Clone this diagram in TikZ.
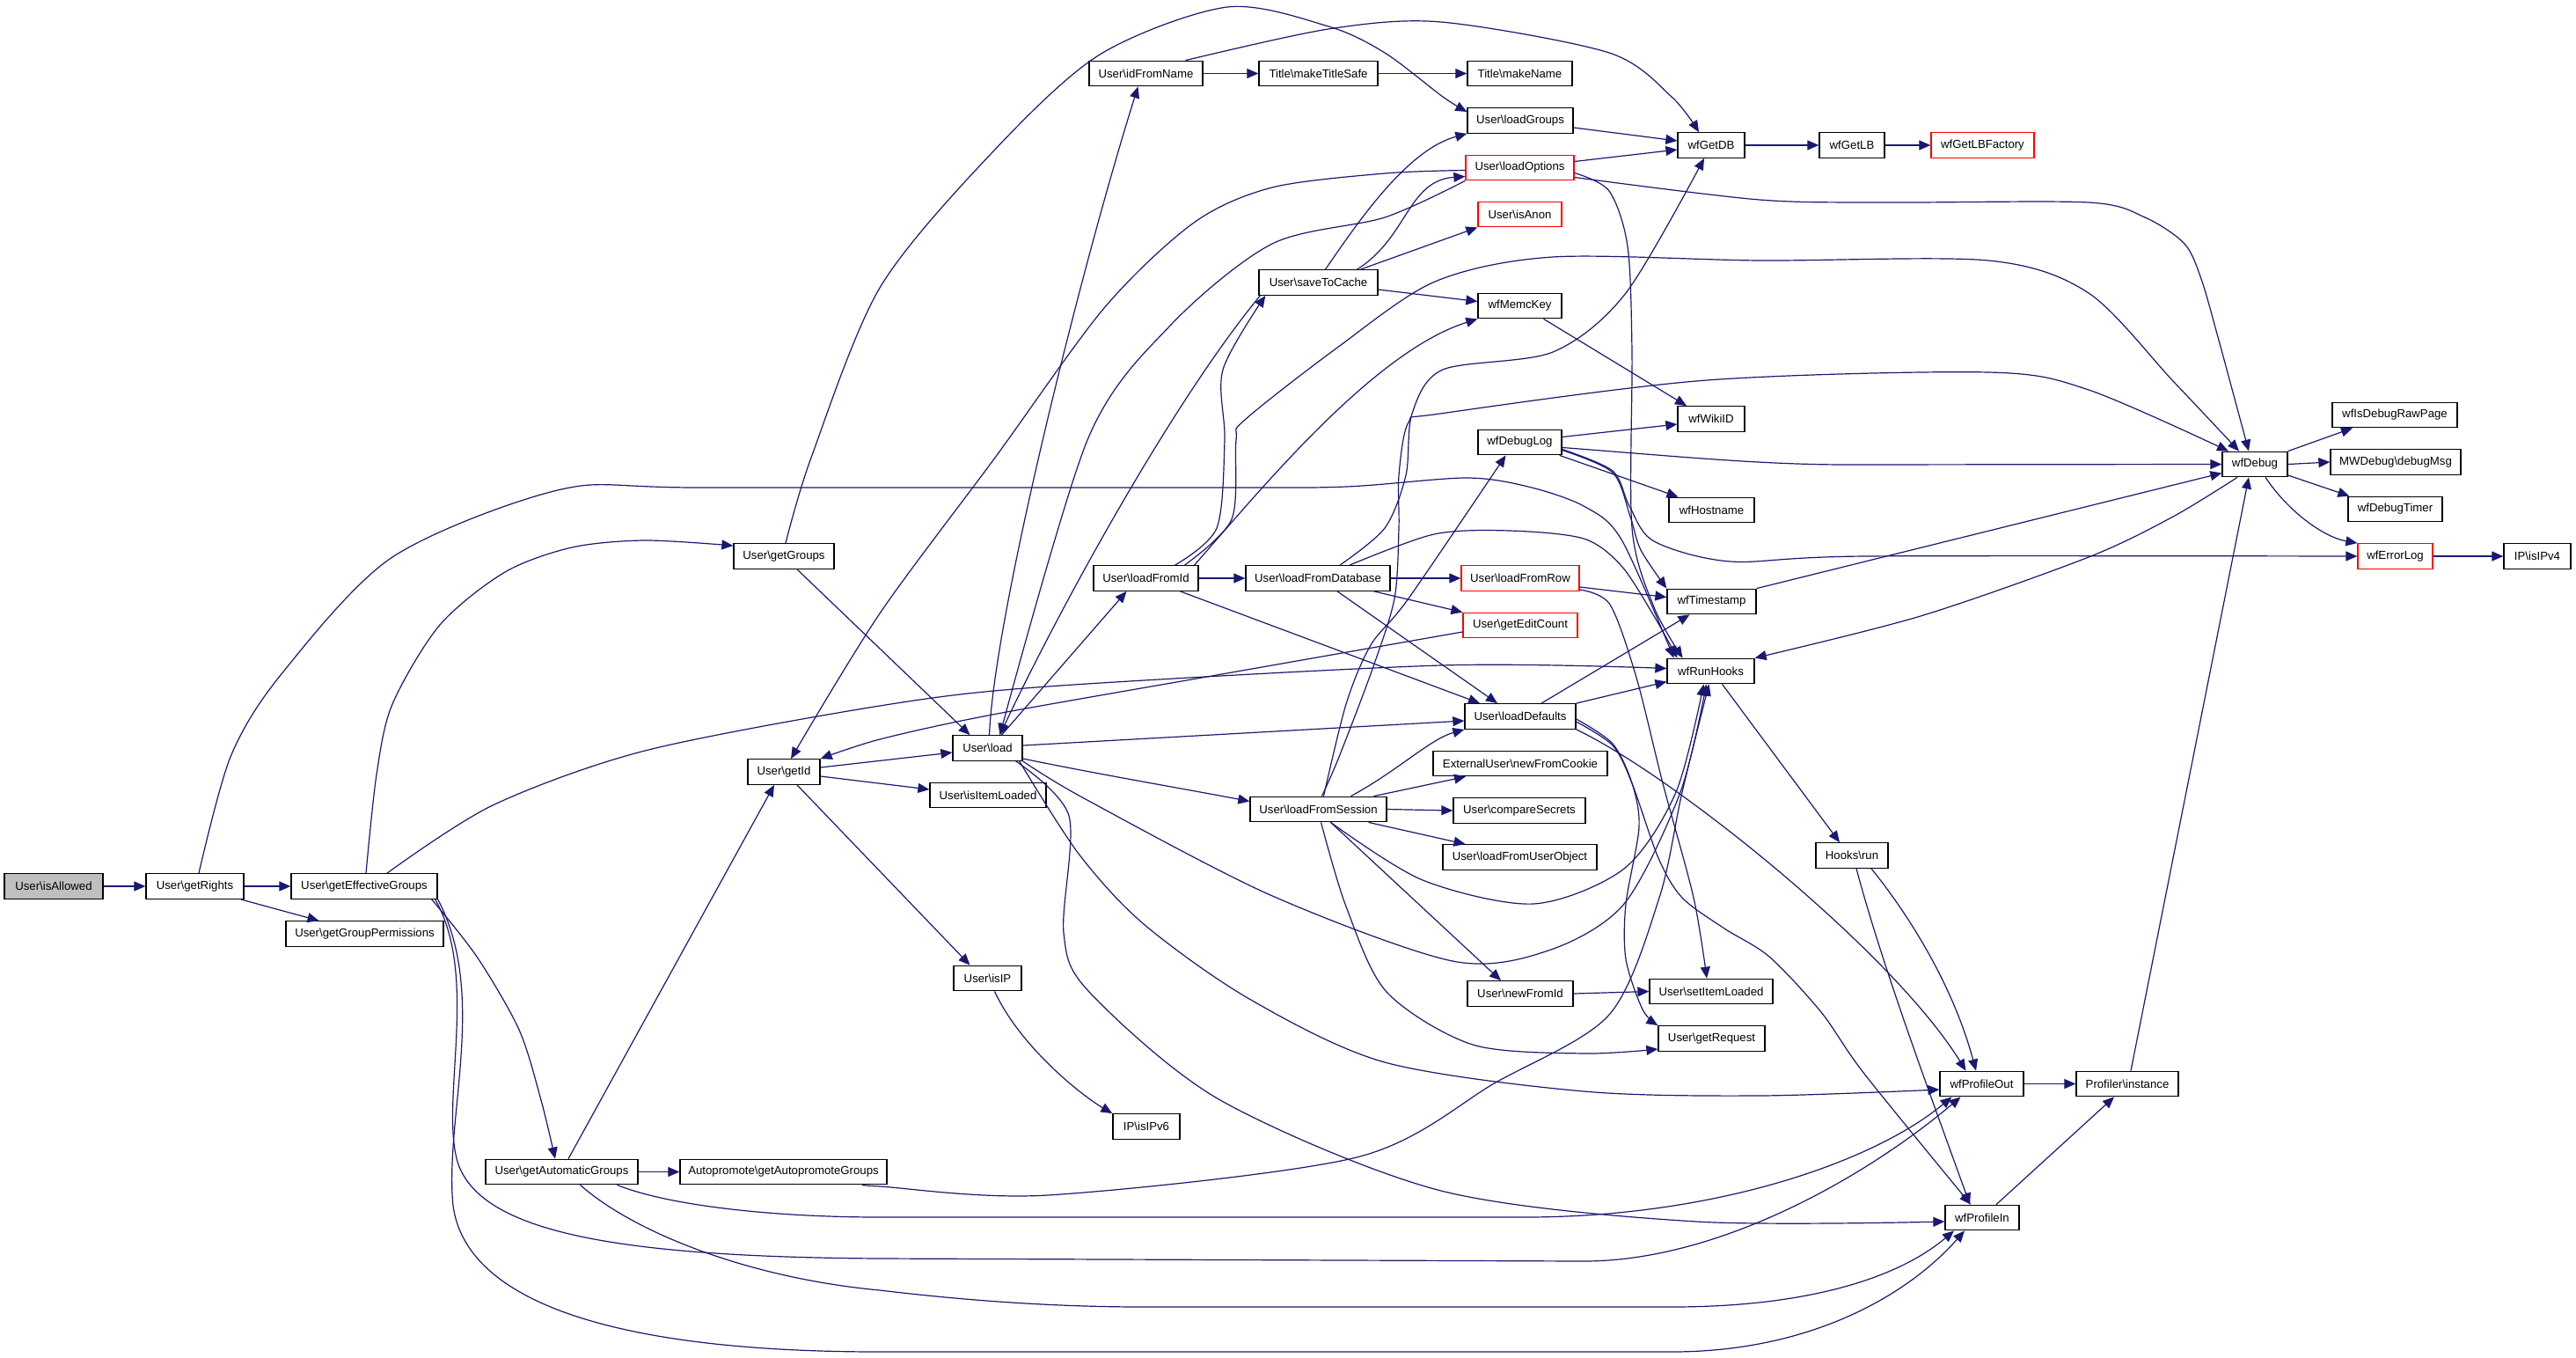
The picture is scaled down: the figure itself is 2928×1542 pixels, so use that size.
\documentclass[tikz,border=0pt]{standalone}
\usepackage{fontspec}
\setmainfont{Liberation Sans}
\usetikzlibrary{arrows.meta}
\newcommand{\bsl}{\textbackslash}
\definecolor{edgeblue}{RGB}{25,25,112}
\definecolor{rootgray}{RGB}{191,191,191}

\begin{document}
\begin{tikzpicture}[x=1pt, y=-1pt,
    fn/.style = {draw=black, fill=white, line width=1.3pt, minimum height=28.5pt,
                 inner sep=0pt, font=\fontsize{13.2pt}{15pt}\selectfont},
    fnred/.style = {fn, draw=red},
    call/.style = {draw=edgeblue, line width=1.2pt, line join=round,
                   -{Triangle[length=13pt,width=11pt]}}]

    \useasboundingbox (0,0) rectangle (2928,1542);

    % functions
    \node[fn, fill=rootgray, minimum width=112pt] (isAllowed) at (61,1007) {User\bsl isAllowed};
    \node[fn, minimum width=111pt] (getRights) at (221.5,1007) {User\bsl getRights};
    \node[fn, minimum width=166pt] (effGroups) at (414,1007) {User\bsl getEffectiveGroups};
    \node[fn, minimum width=179pt] (groupPerms) at (414.5,1061) {User\bsl getGroupPermissions};
    \node[fn, minimum width=114pt] (getGroups) at (891,632) {User\bsl getGroups};
    \node[fn, minimum width=82pt] (getId) at (891,877) {User\bsl getId};
    \node[fn, minimum width=173pt] (autoGroups) at (638.5,1331.5) {User\bsl getAutomaticGroups};
    \node[fn, minimum width=235pt] (autopromote) at (890.5,1331.5) {Autopromote\bsl getAutopromoteGroups};
    \node[fn, minimum width=129pt] (idFromName) at (1302.5,83.5) {User\bsl idFromName};
    \node[fn, minimum width=135pt] (makeTitleSafe) at (1498.5,83.5) {Title\bsl makeTitleSafe};
    \node[fn, minimum width=119pt] (makeName) at (1727.5,83.5) {Title\bsl makeName};
    \node[fn, minimum width=120pt] (loadGroups) at (1728,137) {User\bsl loadGroups};
    \node[fnred, minimum width=123pt] (loadOptions) at (1727.5,190.5) {User\bsl loadOptions};
    \node[fnred, minimum width=95pt] (isAnon) at (1727.5,243.5) {User\bsl isAnon};
    \node[fn, minimum width=135pt] (saveToCache) at (1498.5,321) {User\bsl saveToCache};
    \node[fn, minimum width=95pt] (memcKey) at (1727.5,347.5) {wfMemcKey};
    \node[fn, minimum width=76pt] (getDB) at (1945,165) {wfGetDB};
    \node[fn, minimum width=74pt] (getLB) at (2105,165) {wfGetLB};
    \node[fnred, minimum width=117pt] (getLBFactory) at (2253.5,165) {wfGetLBFactory};
    \node[fn, minimum width=76pt] (wikiID) at (1945,476) {wfWikiID};
    \node[fn, minimum width=95pt] (debugLog) at (1727.5,502.5) {wfDebugLog};
    \node[fn, minimum width=97pt] (hostname) at (1945.5,579.5) {wfHostname};
    \node[fn, minimum width=119pt] (loadFromId) at (1302.5,657) {User\bsl loadFromId};
    \node[fn, minimum width=164pt] (loadFromDB) at (1498,657) {User\bsl loadFromDatabase};
    \node[fnred, minimum width=134pt] (loadFromRow) at (1728,657) {User\bsl loadFromRow};
    \node[fn, minimum width=101pt] (timestamp) at (1945.5,683.5) {wfTimestamp};
    \node[fnred, minimum width=130pt] (editCount) at (1728,710.5) {User\bsl getEditCount};
    \node[fn, minimum width=99pt] (runHooks) at (1944.5,762.5) {wfRunHooks};
    \node[fn, minimum width=126pt] (loadDefaults) at (1728,814) {User\bsl loadDefaults};
    \node[fn, minimum width=79pt] (load) at (1122.5,850) {User\bsl load};
    \node[fn, minimum width=198pt] (newFromCookie) at (1728,867.5) {ExternalUser\bsl newFromCookie};
    \node[fn, minimum width=132pt] (isItemLoaded) at (1123,903.5) {User\bsl isItemLoaded};
    \node[fn, minimum width=155pt] (loadFromSession) at (1498.5,919.5) {User\bsl loadFromSession};
    \node[fn, minimum width=150pt] (compareSecrets) at (1727,921) {User\bsl compareSecrets};
    \node[fn, minimum width=175pt] (loadFromUserObj) at (1727.5,974) {User\bsl loadFromUserObject};
    \node[fn, minimum width=77pt] (isIP) at (1122.5,1111.5) {User\bsl isIP};
    \node[fn, minimum width=76pt] (isIPv6) at (1303,1280) {IP\bsl isIPv6};
    \node[fn, minimum width=120pt] (newFromId) at (1728,1129) {User\bsl newFromId};
    \node[fn, minimum width=140pt] (setItemLoaded) at (1945,1126.5) {User\bsl setItemLoaded};
    \node[fn, minimum width=121pt] (getRequest) at (1945.5,1180) {User\bsl getRequest};
    \node[fn, minimum width=82pt] (hooksRun) at (2105,972) {Hooks\bsl run};
    \node[fn, minimum width=95pt] (profileOut) at (2252.5,1231.5) {wfProfileOut};
    \node[fn, minimum width=116pt] (profilerInst) at (2418,1231.5) {Profiler\bsl instance};
    \node[fn, minimum width=84pt] (profileIn) at (2253,1383.5) {wfProfileIn};
    \node[fn, minimum width=74pt] (debug) at (2563,527.5) {wfDebug};
    \node[fn, minimum width=142pt] (debugRaw) at (2722,471.5) {wfIsDebugRawPage};
    \node[fn, minimum width=148pt] (debugMsg) at (2723,525) {MWDebug\bsl debugMsg};
    \node[fn, minimum width=107pt] (debugTimer) at (2722.5,578.5) {wfDebugTimer};
    \node[fnred, minimum width=85pt] (errorLog) at (2722.5,632) {wfErrorLog};
    \node[fn, minimum width=76pt] (isIPv4) at (2884,632) {IP\bsl isIPv4};

    % straight calls
    \draw[call] (isAllowed) -- (getRights);
    \draw[call] (getRights) -- (effGroups);
    \draw[call] ([xshift=-4pt]getRights.south east) -- ([xshift=-52pt]groupPerms.north);
    \draw[call] (autoGroups) -- (autopromote);
    \draw[call] (idFromName) -- (makeTitleSafe);
    \draw[call] (makeTitleSafe) -- (makeName);
    \draw[call] (getDB) -- (getLB);
    \draw[call] (getLB) -- (getLBFactory);
    \draw[call] (loadFromId) -- (loadFromDB);
    \draw[call] (loadFromDB) -- (loadFromRow);
    \draw[call] (loadFromSession.east) -- (compareSecrets.west);
    \draw[call] (newFromId.east) -- (setItemLoaded.west);
    \draw[call] (profileOut) -- (profilerInst);
    \draw[call] (errorLog) -- (isIPv4);
    \draw[call] (debug.east) -- (debugMsg.west);
    \draw[call] ([xshift=15pt]getGroups.south) -- ([xshift=-20pt]load.north);
    \draw[call] ([yshift=5pt]getId.east) -- ([yshift=-5pt]load.west);
    \draw[call] ([yshift=-5pt]getId.east) -- ([yshift=6.5pt]isItemLoaded.west);
    \draw[call] ([xshift=15pt]getId.south) -- ([xshift=-20pt]isIP.north);
    \draw[call] ([xshift=7.5pt]autoGroups.north) -- ([xshift=-11pt]getId.south);
    \draw[call] ([xshift=16pt]load.north) -- ([xshift=-22pt]loadFromId.south);
    \draw[call] ([yshift=3pt]load.east) -- ([yshift=-5pt]loadDefaults.west);
    \draw[call] ([xshift=39pt]loadFromId.south) -- ([xshift=-46pt]loadDefaults.north);
    \draw[call] ([xshift=22pt]loadFromDB.south) -- ([xshift=-26pt]loadDefaults.north);
    \draw[call] ([xshift=-19pt]loadFromDB.south east) -- (editCount.north west);
    \draw[call] ([yshift=-10pt]loadFromRow.east) -- ([yshift=5pt]timestamp.west);
    \draw[call] ([xshift=24pt]loadDefaults.north) -- ([xshift=-25pt]timestamp.south);
    \draw[call] (loadDefaults.north east) -- ([yshift=-12pt]runHooks.west);
    \draw[call] ([xshift=14pt]loadFromSession.south) -- ([xshift=-22pt]newFromId.north);
    \draw[call] ([xshift=57pt]loadFromSession.south) -- ([xshift=-62pt]loadFromUserObj.north);
    \draw[call] ([xshift=63pt]loadFromSession.north) -- ([xshift=-62pt]newFromCookie.south);
    \draw[call] (timestamp.north east) -- ([yshift=-10pt]debug.west);
    \draw[call] ([yshift=6pt]debugLog.east) -- ([yshift=-6pt]wikiID.west);
    \draw[call] ([xshift=-3pt]debugLog.south east) -- ([xshift=-38pt]hostname.north);
    \draw[call] ([xshift=27pt]memcKey.south) -- ([xshift=-28pt]wikiID.north);
    \draw[call] ([xshift=48pt]saveToCache.north) -- (isAnon.south west);
    \draw[call] ([yshift=-8pt]saveToCache.east) -- ([yshift=5pt]memcKey.west);
    \draw[call] ([yshift=7pt]loadOptions.east) -- ([yshift=-5pt]getDB.west);
    \draw[call] ([yshift=-8pt]loadGroups.east) -- ([yshift=5pt]getDB.west);
    \draw[call] ([xshift=13pt]runHooks.south) -- ([xshift=-14pt]hooksRun.north);
    \draw[call] ([xshift=16pt]profileIn.north) -- ([xshift=-15pt]profilerInst.south);
    \draw[call] ([xshift=4pt]profilerInst.north) -- ([xshift=-7pt]debug.south);
    \draw[call] (debug.north east) -- ([xshift=-48pt]debugRaw.south);
    \draw[call] ([yshift=-12.5pt]debug.east) -- ([xshift=2pt]debugTimer.north west);

    % bent calls
    \draw[call] ([xshift=8pt]isIP.south) .. controls (1160,1190) and (1230,1245) .. (isIPv6.north west);
    \draw[call] ([xshift=2pt]load.north) .. controls (1130,700) and (1230,300) .. ([xshift=-9pt]idFromName.south);
    \draw[call] ([yshift=-12pt]load.east) .. controls (1250,880) and (1350,897) .. ([yshift=9pt]loadFromSession.west);
    \draw[call] ([xshift=2pt]saveToCache.south west) .. controls (1330,460) and (1200,700) .. ([xshift=14pt]load.north);
    \draw[call] ([xshift=55pt]loadFromId.north) .. controls (1430,560) and (1560,400) .. (memcKey.south west);
    \draw[call] ([xshift=8pt]saveToCache.north) .. controls (1545,250) and (1600,170) .. (loadGroups.south west);
    \draw[call] ([xshift=44pt]saveToCache.north) .. controls (1600,270) and (1600,205) .. ([yshift=-10pt]loadOptions.west);
    \draw[call] ([xshift=37pt]loadFromSession.north) .. controls (1590,875) and (1625,840) .. (loadDefaults.south west);
    \draw[call] (loadDefaults.south east) .. controls (1900,880) and (2150,1080) .. ([xshift=-18pt]profileOut.north);
    \draw[call] ([xshift=5pt]hooksRun.south) .. controls (2140,1100) and (2200,1260) .. ([xshift=-14pt]profileIn.north);
    \draw[call] ([xshift=22pt]hooksRun.south) .. controls (2170,1040) and (2220,1120) .. ([xshift=-6.5pt]profileOut.north);
    \draw[call] ([xshift=12pt]debug.south) .. controls (2600,580) and (2640,610) .. (errorLog.north west);
    \draw[call] ([yshift=-6pt]debugLog.east) .. controls (1900,518) and (2000,528) .. (2100,528) -- (debug.west);

    % wfProfileIn / wfProfileOut from the group functions
    \draw[call] ([xshift=-3pt]effGroups.south east) .. controls (545,1110) and (500,1250) .. (520,1320)
        .. controls (545,1400) and (700,1428) .. (1000,1430) -- (1800,1433)
        .. controls (1960,1433) and (2130,1330) .. ([xshift=-24pt]profileOut.south);
    \draw[call] (effGroups.south east) .. controls (555,1130) and (505,1270) .. (515,1370)
        .. controls (530,1480) and (700,1536) .. (1000,1536) -- (1900,1536)
        .. controls (2060,1536) and (2170,1470) .. ([xshift=-20pt]profileIn.south);
    \draw[call] ([xshift=63pt]autoGroups.south) .. controls (760,1370) and (880,1383) .. (1000,1383)
        -- (1733,1383) .. controls (1950,1383) and (2130,1320) .. ([xshift=-34pt]profileOut.south);
    \draw[call] ([xshift=21pt]autoGroups.south) .. controls (720,1400) and (850,1452) .. (1000,1466)
        .. controls (1100,1478) and (1200,1485) .. (1300,1485) -- (1900,1485)
        .. controls (2060,1485) and (2160,1450) .. ([xshift=-32pt]profileIn.south);

    % long routes
    \draw[call] plot[smooth] coordinates {([xshift=4.5pt]getRights.north) (262,860) (319,767) (446,633)
        (638,556) (800,554) (1380,554) (1530,553) (1666,543) (1737,553) (1800,575) (1843,613)
        ([xshift=-42pt]runHooks.north)};
    \draw[call] plot[smooth] coordinates {([xshift=2pt]effGroups.north) (428,880) (446,800) (500,710)
        (574,650) (650,622) (733,614) ([yshift=12pt]getGroups.west)};
    \draw[call] plot[smooth] coordinates {([xshift=26pt]effGroups.north) (560,915) (733,853) (1000,802)
        (1191,780) (1638,756) ([yshift=3pt]runHooks.west)};
    \draw[call] plot[smooth] coordinates {([xshift=-7pt]effGroups.south east) (542,1087) (590,1170)
        (615,1250) ([xshift=-7.5pt]autoGroups.north)};
    \draw[call] plot[smooth] coordinates {([xshift=2pt]getGroups.north) (922,520) (1000,327) (1128,173)
        (1250,62) (1395,8) (1510,30) (1574,60) (1640,110) ([yshift=10pt]loadGroups.west)};
    \draw[call] plot[smooth] coordinates {([xshift=-26pt]autopromote.south east) (1000,1348) (1191,1358)
        (1542,1315) (1700,1230) (1829,1153) (1886,1020) (1912,900) ([xshift=-2pt]runHooks.south)};
    \draw[call] plot[smooth] coordinates {(load.south east) (1232,907) (1444,1017) (1651,1092)
        (1760,1080) (1846,1027) (1910,900) ([xshift=-5pt]runHooks.south)};
    \draw[call] plot[smooth] coordinates {([xshift=-4pt]load.south east) (1226,970) (1300,1050)
        (1420,1135) (1574,1207) (1800,1240) (2000,1245) ([yshift=-6.5pt]profileOut.west)};
    \draw[call] plot[smooth] coordinates {([xshift=-8pt]load.south east) (1215,927) (1209,1060)
        (1238,1127) (1387,1250) (1638,1353) (1928,1388) ([yshift=-4.5pt]profileIn.west)};
    \draw[call] plot[smooth] coordinates {([xshift=33pt]loadFromId.north) (1383,600) (1392,500)
        (1390,420) ([xshift=8pt]saveToCache.south west)};
    \draw[call] plot[smooth] coordinates {([xshift=44pt]loadFromId.north) (1400,590) (1405,500)
        (1415,477) (1520,395) (1631,320) (1765,292) (2000,296) (2260,296) (2374,333) (2470,433)
        ([xshift=-18pt]debug.north)};
    \draw[call] plot[smooth] coordinates {([xshift=25pt]loadFromDB.north) (1574,600) (1598,540)
        (1605,470) (1640,420) (1765,400) (1848,333) ([xshift=-8pt]getDB.south)};
    \draw[call] plot[smooth] coordinates {([xshift=36pt]loadFromDB.north) (1630,607) (1716,603)
        (1800,612) (1843,643) (1880,700) ([xshift=-38pt]runHooks.north)};
    \draw[call] plot[smooth] coordinates {([yshift=-13pt]loadFromRow.east) (1830,687) (1860,770)
        (1890,890) (1925,1020) ([xshift=-5pt]setItemLoaded.north)};
    \draw[call] plot[smooth] coordinates {([yshift=-6pt]loadDefaults.east) (1833,847) (1855,890)
        (1885,975) (1912,1020) (1960,1055) (2011,1087) (2070,1150) (2119,1220)
        ([xshift=-13pt]profileIn.north)};
    \draw[call] plot[smooth] coordinates {([yshift=-3pt]loadDefaults.east) (1833,845) (1855,890)
        (1863,940) (1848,1027) (1848,1090) (1867,1147) (getRequest.north west)};
    \draw[call] plot[smooth] coordinates {([xshift=14pt]loadFromSession.south) (1617,1000) (1743,1027)
        (1846,987) (1905,900) ([xshift=-8pt]runHooks.south)};
    \draw[call] plot[smooth] coordinates {([xshift=3pt]loadFromSession.south) (1530,1030) (1576,1127)
        (1674,1187) (1800,1197) ([yshift=-12pt]getRequest.west)};
    \draw[call] plot[smooth] coordinates {([xshift=6pt]loadFromSession.north) (1530,800) (1558,733)
        (1601,680) ([xshift=-16pt]debugLog.south)};
    \draw[call] plot[smooth] coordinates {([xshift=4pt]loadFromSession.north) (1522,860) (1560,760)
        (1585,680) (1590,600) (1590,540) (1601,480) (1637,470) (1940,432) (2260,423) (2374,443)
        ([xshift=-30pt]debug.north)};
    \draw[call] plot[smooth] coordinates {([yshift=-9pt]debugLog.east) (1833,537) (1853,587)
        (1865,625) (timestamp.north west)};
    \draw[call] plot[smooth] coordinates {([yshift=-8pt]debugLog.east) (1833,535) (1852,575)
        (1880,615) (1967,638) (2120,632) (errorLog.west)};
    \draw[call] plot[smooth] coordinates {([xshift=45pt]idFromName.north) (1510,33) (1638,25)
        (1829,60) (1900,110) ([xshift=-14pt]getDB.north)};
    \draw[call] plot[smooth] coordinates {([yshift=-11pt]loadOptions.east) (2000,227) (2150,230)
        (2374,230) (2438,247) (2483,277) (2502,317) (2521,383) ([xshift=-7pt]debug.north)};
    \draw[call] plot[smooth] coordinates {([yshift=-6pt]loadOptions.east) (1829,217) (1850,280)
        (1855,400) (1855,600) (1880,690) ([xshift=-32pt]runHooks.north)};
    \draw[call] plot[smooth] coordinates {([yshift=-3pt]loadOptions.west) (1574,197) (1446,213)
        (1357,253) (1255,350) (1131,520) (1000,697) ([xshift=8pt]getId.north)};
    \draw[call] plot[smooth] coordinates {(loadOptions.south west) (1574,247) (1446,277) (1330,370)
        (1236,500) ([xshift=14pt]load.north)};
    \draw[call] plot[smooth] coordinates {([yshift=-7.5pt]editCount.west) (1383,767) (1128,812)
        (1000,840) (getId.north east)};
    \draw[call] plot[smooth] coordinates {([xshift=-20pt]debug.south) (2470,587) (2374,633)
        (2183,700) (runHooks.north east)};

\end{tikzpicture}
\end{document}
